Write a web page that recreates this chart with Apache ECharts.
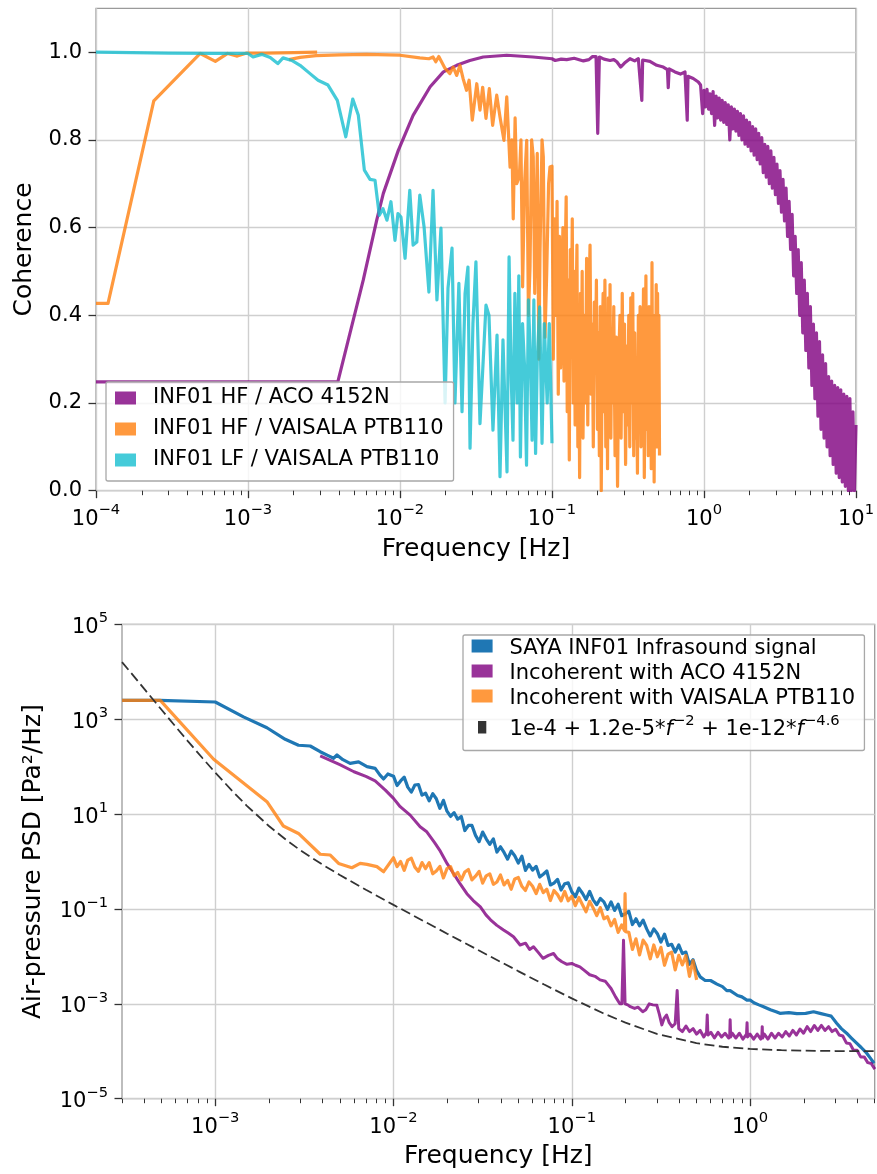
<!DOCTYPE html>
<html><head><meta charset="utf-8">
<script src="https://cdn.jsdelivr.net/npm/echarts@6/dist/echarts.min.js"></script>
<style>html,body{margin:0;padding:0;background:#fff}#c{width:877px;height:1174px}</style>
</head><body><div id="c"></div>
<script>
// ---------- Top panel: coherence ----------
const acoCohFreqLow = [1e-4,3.9e-3,5.73e-3,7.03e-3,7.77e-3,9.75e-3,0.0122,0.0158,0.0193,0.0236,0.0288,0.0353,0.0504,0.075,0.1,0.105,0.115,0.125,0.14,0.161,0.175,0.185,0.195,0.2,0.205,0.22,0.241,0.255,0.267,0.283,0.3,0.326,0.35,0.37,0.39,0.395,0.441,0.489,0.54,0.575,0.582,0.59,0.644,0.7,0.75,0.776,0.785,0.85,0.918,0.95,0.98];
const acoCohValLow = [0.248,0.248,0.48,0.617,0.678,0.776,0.856,0.921,0.955,0.970,0.981,0.989,0.993,0.989,0.985,0.981,0.984,0.983,0.986,0.98,0.983,0.99,0.99,0.815,0.989,0.984,0.981,0.983,0.978,0.966,0.975,0.985,0.98,0.985,0.89,0.982,0.979,0.970,0.966,0.96,0.919,0.962,0.955,0.95,0.955,0.845,0.945,0.94,0.932,0.925,0.86];
const acoCohFreqHigh = [1.0,1.023,1.047,1.072,1.096,1.122,1.148,1.175,1.202,1.230,1.259,1.288,1.318,1.349,1.380,1.413,1.445,1.479,1.514,1.549,1.585,1.622,1.660,1.698,1.738,1.778,1.820,1.862,1.905,1.950,1.995,2.042,2.089,2.138,2.188,2.239,2.291,2.344,2.399,2.455,2.512,2.570,2.630,2.692,2.754,2.818,2.884,2.951,3.020,3.090,3.162,3.236,3.311,3.388,3.467,3.548,3.631,3.715,3.802,3.890,3.981,4.074,4.169,4.266,4.365,4.467,4.571,4.677,4.786,4.898,5.012,5.129,5.248,5.370,5.495,5.623,5.754,5.888,6.026,6.166,6.310,6.457,6.607,6.761,6.918,7.079,7.244,7.413,7.586,7.762,7.943,8.128,8.318,8.511,8.710,8.913,9.120,9.333,9.550,9.772,10.0];
const acoCohValHigh = [0.913,0.875,0.915,0.87,0.905,0.86,0.91,0.833,0.90,0.85,0.895,0.845,0.89,0.84,0.885,0.835,0.88,0.80,0.875,0.825,0.87,0.82,0.865,0.81,0.86,0.80,0.855,0.79,0.845,0.785,0.84,0.775,0.83,0.765,0.825,0.755,0.815,0.745,0.805,0.725,0.79,0.715,0.785,0.70,0.775,0.69,0.76,0.675,0.745,0.655,0.73,0.635,0.71,0.615,0.69,0.58,0.66,0.55,0.63,0.49,0.58,0.45,0.55,0.40,0.52,0.36,0.48,0.32,0.45,0.28,0.42,0.24,0.38,0.21,0.36,0.17,0.34,0.14,0.31,0.12,0.29,0.10,0.26,0.08,0.25,0.06,0.24,0.04,0.235,0.03,0.23,0.02,0.22,0.01,0.215,0.0,0.21,0.0,0.18,0.0,0.15];

const hfVaisalaFreqA = [1e-4,1.2e-4,2.4e-4,4.85e-4,6.1e-4,7.35e-4,8.5e-4,9.8e-4,1.3e-3,2.0e-3,2.85e-3];
const hfVaisalaCohA = [0.427,0.427,0.889,0.997,0.979,0.997,0.991,0.998,0.998,0.999,1.0];

const hfVaisalaFreqB = [1.86e-3,2.2e-3,2.8e-3,4e-3,6e-3,0.01,0.0135,0.0155,0.0165,0.0172,0.018,0.0198,0.0213,0.0224,0.0236,0.0248,0.026,0.0274,0.0285,0.0299,0.032,0.0336,0.035,0.0368,0.0387,0.0407,0.0433,0.0455,0.0483,0.0504,0.053,0.0545,0.0556,0.0572,0.0586,0.061,0.0625,0.0641,0.066,0.0682,0.070,0.0717,0.0735,0.0753,0.077,0.080,0.082,0.0834,0.086,0.0877,0.090,0.0923,0.095,0.097];
const hfVaisalaCohB = [0.983,0.988,0.992,0.994,0.995,0.993,0.987,0.985,0.989,0.978,0.99,0.963,0.951,0.966,0.947,0.97,0.94,0.913,0.936,0.845,0.928,0.868,0.92,0.849,0.917,0.833,0.902,0.852,0.799,0.898,0.738,0.80,0.62,0.85,0.70,0.716,0.80,0.465,0.70,0.799,0.40,0.51,0.80,0.761,0.45,0.769,0.30,0.541,0.80,0.761,0.35,0.495,0.70,0.738];
const hfVaisalaFreqC = [0.100,0.102,0.104,0.106,0.108,0.110,0.112,0.114,0.116,0.118,0.120,0.122,0.124,0.126,0.128,0.130,0.132,0.134,0.136,0.138,0.140,0.142,0.144,0.146,0.148,0.150,0.152,0.154,0.156,0.158,0.160,
0.163,0.166,0.169,0.172,0.175,0.178,0.181,0.184,0.187,0.190,0.193,0.196,0.199,0.202,0.205,0.208,0.211,0.214,0.217,0.220,0.223,0.226,0.229,0.232,0.235,0.238,0.241,0.244,0.247,0.250,
0.255,0.260,0.265,0.270,0.275,0.280,0.285,0.290,0.295,0.300,0.305,0.310,0.315,0.320,0.325,0.330,0.335,0.340,0.345,0.350,0.355,0.360,0.365,0.370,0.375,0.380,0.385,0.390,0.395,0.400,0.405,0.410,0.415,0.420,0.425,0.430,0.435,0.440,0.445,0.450,0.455,0.460,0.465,0.470,0.475,0.480,0.485,0.490,0.495,0.500,0.505,0.510];
const hfVaisalaCohC = [0.74,0.30,0.62,0.40,0.66,0.22,0.58,0.28,0.45,0.60,0.25,0.52,0.67,0.18,0.48,0.07,0.55,0.35,0.62,0.20,0.50,0.15,0.42,0.56,0.10,0.38,0.03,0.45,0.25,0.50,0.12,
0.40,0.20,0.53,0.15,0.44,0.56,0.22,0.38,0.10,0.43,0.28,0.48,0.14,0.36,0.08,0.42,0.00,0.33,0.45,0.18,0.48,0.10,0.38,0.05,0.44,0.22,0.47,0.12,0.36,0.20,
0.42,0.08,0.35,0.01,0.30,0.40,0.12,0.45,0.18,0.38,0.06,0.33,0.15,0.40,0.10,0.44,0.20,0.45,0.08,0.36,0.12,0.30,0.04,0.40,0.18,0.42,0.10,0.35,0.22,0.46,0.03,0.30,0.49,0.14,0.38,0.08,0.42,0.20,0.36,0.05,0.52,0.15,0.40,0.02,0.35,0.22,0.47,0.10,0.45,0.18,0.40,0.08];

const lfVaisalaFreq = [1e-4,3e-4,6e-4,1e-3,1.08e-3,1.23e-3,1.4e-3,1.57e-3,1.7e-3,1.94e-3,2.2e-3,2.56e-3,2.89e-3,3.36e-3,3.87e-3,4.4e-3,4.89e-3,5.32e-3,5.83e-3,6.35e-3,6.85e-3,7.31e-3,
7.73e-3,8.21e-3,8.72e-3,9.27e-3,9.7e-3,0.01015,0.0108,0.0116,0.0122,0.0129,0.0135,0.0144,0.0155,0.0165,0.0175,0.0186,0.0198,0.0207,0.022,0.023,0.0244,0.0256,0.0268,0.028,0.0289,0.0302,0.0316,0.0336,0.0352,0.0368,0.0385,0.0409,0.0435,0.0455,0.0476,0.0506,0.0522,0.054,0.0554,0.057,0.059,0.0605,0.062,0.064,0.066,0.068,0.070,0.072,0.074,0.076,0.078,0.080,0.083,0.086,0.089,0.093,0.096,0.100];
const lfVaisalaCoh = [1.0,0.998,0.997,0.997,0.989,0.995,0.988,0.974,0.987,0.981,0.970,0.951,0.936,0.925,0.89,0.807,0.893,0.856,0.731,0.71,0.708,0.628,
0.643,0.617,0.659,0.571,0.632,0.624,0.530,0.685,0.560,0.567,0.674,0.602,0.453,0.685,0.435,0.599,0.20,0.462,0.553,0.20,0.473,0.18,0.45,0.51,0.097,0.381,0.522,0.153,0.29,0.423,0.40,0.138,0.355,0.032,0.344,0.043,0.533,0.25,0.115,0.45,0.20,0.49,0.077,0.381,0.283,0.058,0.435,0.305,0.115,0.435,0.085,0.298,0.419,0.108,0.381,0.20,0.381,0.108];

// ---------- Bottom panel: PSD ----------
const sayaFreqLow = [3.0e-4,4.9e-4,1.0e-3,1.44e-3,1.95e-3,2.47e-3,2.93e-3,3.41e-3,3.88e-3,4.3e-3,4.61e-3,4.82e-3,5.2e-3,5.71e-3,6.37e-3,7.1e-3,7.89e-3,8.4e-3,8.79e-3,9.3e-3];
const sayaPsdLow = [2500,2500,2300,1120,660,377,282,272,206,170,150,176,140,117,126,100,92,66,55,70];
const sayaFreqMid = [0.01,0.01047,0.01096,0.01148,0.01202,0.01259,0.01318,0.0138,0.01445,0.01514,0.01585,0.0166,0.01738,0.0182,0.01905,0.01995,0.02089,0.02188,0.02291,0.02399,0.02512,0.0263,0.02754,0.02884,0.0302,0.03162,0.03311,0.03467,0.03631,0.03802,0.03981,0.04169,0.04365,0.04571,0.04786,0.05012,0.05248,0.05495,0.05754,0.06026,0.0631,0.06607,0.06918,0.07244,0.07586,0.07943,0.08318,0.0871,0.0912,0.0955,0.1,0.1047,0.1096,0.1148,0.1202,0.1259,0.1318,0.138,0.1445,0.1514,0.1585,0.166,0.1738,0.182,0.1905,0.1995,0.2089,0.2188,0.2291,0.2399,0.2512,0.263,0.2754,0.2884,0.302,0.3162,0.3311,0.3467,0.3631,0.3802,0.3981,0.4169,0.4365,0.4571,0.4786,0.5012];
const sayaPsdMid = [63,40,50,60,37,29,41,42,25,27.5,19,27,21,13.2,19.5,11.5,8.9,10.7,7.8,8.9,4.5,5.75,5.75,3.55,2.63,4.17,3.0,2.29,3.0,1.58,2.04,1.55,1.12,1.66,1.32,0.93,1.29,0.65,0.87,0.66,0.79,0.47,0.54,0.63,0.32,0.35,0.42,0.25,0.34,0.355,0.23,0.18,0.275,0.214,0.158,0.234,0.155,0.123,0.166,0.141,0.098,0.141,0.093,0.126,0.072,0.078,0.089,0.047,0.062,0.044,0.058,0.038,0.027,0.038,0.030,0.020,0.0295,0.017,0.018,0.0123,0.0174,0.0115,0.0123,0.0068,0.0085,0.005];
const sayaFreqHigh = [0.525,0.56,0.6,0.652,0.7,0.74,0.773,0.85,0.9,0.96,1.0,1.05,1.12,1.19,1.3,1.4,1.47,1.65,1.83,2.05,2.27,2.5,2.69,2.85,3.06,3.25,3.48,3.7,3.96,4.2,4.51,4.75,4.96];
const sayaPsdHigh = [0.0037,0.0031,0.0031,0.0026,0.0023,0.0019,0.0019,0.0015,0.0014,0.0012,0.0012,0.00105,0.00095,0.00087,0.00075,0.00068,0.00063,0.00065,0.00062,0.00063,0.00068,0.00062,0.00058,0.00055,0.00039,0.0003,0.00024,0.00019,0.000148,0.00012,0.000091,0.00007,0.000056];

const acoIncFreqLow = [3.88e-3,5.0e-3,6.0e-3,7.0e-3,7.89e-3,9.0e-3,0.01,0.0109,0.0124,0.0141,0.0153,0.017,0.0183,0.02,0.0217,0.0235,0.0258,0.028,0.0307,0.033,0.035,0.038,0.0414,0.044,0.0471,0.0513,0.055,0.058,0.061,0.065,0.069,0.074,0.079,0.083,0.088,0.094,0.1,0.105,0.111,0.118,0.126,0.135,0.144,0.154,0.16,0.166,0.176,0.186,0.191,0.195,0.199,0.206,0.213,0.225,0.235,0.25,0.26,0.272,0.285,0.3,0.31,0.32,0.33,0.34,0.352,0.365,0.38,0.39,0.398];
const acoIncPsdLow = [168,110,78,62,50,32,21.4,14.3,9.5,5.4,4.3,2.5,1.65,0.9,0.56,0.35,0.21,0.15,0.11,0.075,0.059,0.045,0.036,0.031,0.026,0.0174,0.019,0.014,0.016,0.012,0.0091,0.0105,0.0115,0.009,0.0077,0.0068,0.0071,0.0065,0.006,0.005,0.0041,0.0038,0.0032,0.003,0.0025,0.0021,0.0014,0.001,0.001,0.022,0.001,0.00095,0.00087,0.0008,0.00085,0.00068,0.00075,0.001,0.00095,0.00093,0.0006,0.00036,0.0005,0.00058,0.0004,0.00033,0.00038,0.0019,0.0003];
const acoIncFreqHigh = [0.417,0.437,0.457,0.479,0.501,0.525,0.550,0.57,0.575,0.58,0.603,0.631,0.661,0.692,0.724,0.759,0.769,0.773,0.778,0.794,0.832,0.871,0.912,0.955,0.962,0.967,1.0,1.047,1.096,1.148,1.165,1.17,1.175,1.202,1.259,1.318,1.38,1.445,1.514,1.585,1.66,1.738,1.82,1.905,1.995,2.089,2.188,2.291,2.399,2.512,2.63,2.754,2.884,3.02,3.162,3.311,3.467,3.631,3.802,3.981,4.169,4.365,4.571,4.786,5.012];
const acoIncPsdHigh = [2.6e-4,3.4e-4,2.6e-4,3.0e-4,2.3e-4,2.75e-4,2.0e-4,2.5e-4,5.8e-4,2.2e-4,2.5e-4,1.9e-4,2.5e-4,2.0e-4,2.4e-4,1.9e-4,2.2e-4,4.6e-4,2.0e-4,2.4e-4,1.9e-4,2.4e-4,1.8e-4,2.3e-4,4.0e-4,2.0e-4,2.3e-4,1.8e-4,2.3e-4,1.8e-4,2.2e-4,3.3e-4,1.9e-4,2.3e-4,1.8e-4,2.4e-4,1.9e-4,2.4e-4,2.0e-4,2.6e-4,2.1e-4,2.75e-4,2.2e-4,2.95e-4,2.4e-4,3.3e-4,2.6e-4,3.5e-4,2.75e-4,3.5e-4,2.75e-4,3.3e-4,2.6e-4,2.9e-4,2.2e-4,2.1e-4,1.5e-4,1.45e-4,1.05e-4,1.05e-4,7.6e-5,7.6e-5,5.75e-5,5.5e-5,4.2e-5];

const vaisalaIncFreq = [3.0e-4,4.92e-4,9.8e-4,1.95e-3,2.41e-3,2.93e-3,3.88e-3,4.42e-3,4.92e-3,5.84e-3,6.5e-3,7.1e-3,8.07e-3,8.8e-3,
0.01,0.01047,0.01096,0.01148,0.01202,0.01259,0.01318,0.0138,0.01445,0.01514,0.01585,0.0166,0.01738,0.0182,0.01905,0.01995,0.02089,0.02188,0.02291,0.02399,0.02512,0.0263,0.02754,0.02884,0.0302,0.03162,0.03311,0.03467,0.03631,0.03802,0.03981,0.04169,0.04365,0.04571,0.04786,0.05012,0.05248,0.05495,0.05754,0.06026,0.0631,0.06607,0.06918,0.07244,0.07586,0.07943,0.08318,0.0871,0.0912,0.0955,0.1,0.1047,0.1096,0.1148,0.1202,0.1259,0.1318,0.138,0.1445,0.1514,0.1585,0.166,0.1738,0.182,0.1905,
0.1975,0.199,0.2005,
0.2089,0.2188,0.2291,0.2399,0.2512,0.263,0.2754,0.2884,0.302,0.3162,0.3311,0.3467,0.3631,0.3802,0.3981,0.4169,0.4365,0.4571,0.4786,0.5012];
const vaisalaIncPsd = [2500,2500,143,18.2,5.6,3.9,1.42,1.37,0.91,0.74,0.91,0.87,0.78,0.61,
1.2,0.78,1.0,0.65,1.07,1.17,0.76,0.62,0.95,0.71,0.95,0.55,0.63,0.79,0.45,0.71,0.78,0.50,0.59,0.41,0.60,0.68,0.41,0.49,0.62,0.35,0.50,0.55,0.33,0.37,0.52,0.32,0.40,0.26,0.43,0.46,0.30,0.245,0.37,0.30,0.21,0.33,0.22,0.26,0.15,0.245,0.20,0.148,0.234,0.148,0.186,0.117,0.174,0.123,0.087,0.145,0.105,0.072,0.107,0.062,0.069,0.044,0.060,0.032,0.046,
0.035,0.21,0.033,
0.032,0.014,0.0234,0.0107,0.022,0.017,0.0089,0.0174,0.0098,0.0155,0.0065,0.0112,0.0123,0.0052,0.0105,0.0066,0.0105,0.0038,0.0081,0.0032];

const modelFreq = [3e-4,3.5e-4,4e-4,5e-4,6e-4,7e-4,8.5e-4,1e-3,1.25e-3,1.5e-3,2e-3,2.5e-3,3e-3,4e-3,5e-3,7e-3,0.01,0.015,0.02,0.03,0.05,0.07,0.1,0.15,0.2,0.3,0.5,0.7,1,1.5,2,3,5];
const modelPsd = [16000,8000,4345,1579,693,350,150,75,30.3,15.1,5.6,2.85,1.73,0.857,0.519,0.253,0.1217,0.0537,0.0301,0.01344,0.0049,0.00255,0.0013,0.000633,0.0004,0.000233,0.000148,0.0001245,0.000112,0.0001053,0.000103,0.0001013,0.0001005];

// tick values
const topXMajor = [1e-4,1e-3,1e-2,1e-1,1,10];
const topYTicks = [0,0.2,0.4,0.6,0.8,1.0];
const botXMajor = [1e-3,1e-2,1e-1,1];
const botYTicks = [1e-5,1e-3,1e-1,1e1,1e3,1e5];

// names
const topNames = ['INF01 HF / ACO 4152N','INF01 HF / VAISALA PTB110','INF01 LF / VAISALA PTB110'];
const botNames = ['SAYA INF01 Infrasound signal','Incoherent with ACO 4152N','Incoherent with VAISALA PTB110','1e-4 + 1.2e-5*f^-2 + 1e-12*f^-4.6'];

const zip = (a, b) => a.map((x, i) => [x, b[i]]);
function minorTicks(lo, hi) {
  const out = [];
  for (let d = -6; d <= 2; d++) for (let k = 2; k <= 9; k++) {
    const v = k * Math.pow(10, d);
    if (v >= lo * 0.9999 && v <= hi * 1.0001) out.push(v);
  }
  return out;
}
const inset = arr => arr.map((v, i) => i === 0 ? v * 1.000001 : (i === arr.length - 1 ? v * 0.999999 : v));

const FONT = 'DejaVu Sans';
const PURPLE = 'rgba(128,0,128,0.8)';
const ORANGE = 'rgba(255,127,14,0.8)';
const CYAN = 'rgba(23,190,207,0.8)';
const BLUE = '#1f77b4';
const DARK = '#333333';
const GRIDC = '#cfcfcf';
const FRAME = '#9a9a9a';
const TICKC = '#333';

const powRich = {
  b: {fontSize: 21, lineHeight: 27, verticalAlign: 'bottom', color: '#000', fontFamily: FONT},
  s: {fontSize: 14.7, lineHeight: 15, verticalAlign: 'top', color: '#000', fontFamily: FONT}
};
function powLabel(v) {
  const e = Math.round(Math.log10(v));
  const s = e < 0 ? '\u2212' + (-e) : String(e);
  return '{b|10}{s|' + s + '}';
}

function majorX(grid, min, max, ticks, gap) {
  return {
    gridIndex: grid, type: 'log', logBase: 10, min: min, max: max,
    axisLine: {show: false},
    axisTick: {show: true, customValues: ticks, length: 7.5, lineStyle: {color: TICKC, width: 1.3}},
    axisLabel: {show: true, customValues: ticks, margin: 12, formatter: powLabel, rich: powRich},
    splitLine: {show: true, lineStyle: {color: GRIDC, width: 1.4}},
    name: 'Frequency [Hz]', nameLocation: 'middle', nameGap: gap,
    nameTextStyle: {fontSize: 25, color: '#000', fontFamily: FONT}
  };
}
function minorX(grid, min, max) {
  return {
    gridIndex: grid, type: 'log', logBase: 10, min: min, max: max, position: 'bottom',
    axisLine: {show: false}, axisLabel: {show: false}, splitLine: {show: false},
    axisTick: {show: true, customValues: minorTicks(min, max), length: 4.5, lineStyle: {color: TICKC, width: 1}}
  };
}

const iconRect = 'path://M0,0h21v13h-21z M33,6.5L33,6.5';
const iconDash = 'path://M6.4,0.5h8.3v12.5h-8.3z M0,0L0,0 M33,13L33,13';

function lineSeries(name, xi, yi, data, color, width, extra) {
  return Object.assign({
    type: 'line', name: name, xAxisIndex: xi, yAxisIndex: yi, data: data,
    symbol: 'none', showSymbol: false, color: color, silent: true,
    lineStyle: {width: width, color: color, join: 'round'}, emphasis: {disabled: true}, animation: false
  }, extra || {});
}

const option = {
  animation: false,
  textStyle: {fontFamily: FONT},
  grid: [
    {left: 96, top: 8.3, width: 760, height: 482.4, show: true, borderColor: FRAME, borderWidth: 1.3, backgroundColor: 'transparent'},
    {left: 122, top: 624.3, width: 752.7, height: 474.4, show: true, borderColor: FRAME, borderWidth: 1.3, backgroundColor: 'transparent'}
  ],
  xAxis: [
    majorX(0, 1e-4, 10, inset(topXMajor), 46),
    minorX(0, 1e-4, 10),
    majorX(1, 3e-4, 5, botXMajor, 45),
    minorX(1, 3e-4, 5)
  ],
  yAxis: [
    {
      gridIndex: 0, type: 'value', min: 0, max: 1.1,
      axisLine: {show: false},
      axisTick: {show: true, customValues: topYTicks, length: 7.5, lineStyle: {color: TICKC, width: 1.3}},
      axisLabel: {show: true, customValues: topYTicks, margin: 14, fontSize: 21, color: '#000', fontFamily: FONT,
        formatter: v => Number(v).toFixed(1)},
      splitLine: {show: true, lineStyle: {color: GRIDC, width: 1.4}},
      name: 'Coherence', nameLocation: 'middle', nameGap: 59,
      nameTextStyle: {fontSize: 25, color: '#000', fontFamily: FONT}
    },
    {
      gridIndex: 1, type: 'log', logBase: 10, min: 1e-5, max: 1e5,
      axisLine: {show: false},
      axisTick: {show: true, customValues: inset(botYTicks), length: 7.5, lineStyle: {color: TICKC, width: 1.3}},
      axisLabel: {show: true, customValues: inset(botYTicks), margin: 14, formatter: powLabel, rich: powRich},
      splitLine: {show: true, lineStyle: {color: GRIDC, width: 1.4}},
      name: 'Air-pressure PSD [Pa\u00b2/Hz]', nameLocation: 'middle', nameGap: 76,
      nameTextStyle: {fontSize: 25, color: '#000', fontFamily: FONT}
    }
  ],
  legend: [
    {
      data: topNames.map(n => ({name: n, icon: iconRect})),
      orient: 'vertical', left: 106, top: 382, selectedMode: false,
      itemWidth: 33, itemHeight: 13, itemGap: 10, symbolKeepAspect: true,
      itemStyle: {borderWidth: 0},
      padding: [5.5, 10, 10.5, 9],
      backgroundColor: 'rgba(255,255,255,0.8)', borderColor: '#a8a8a8', borderWidth: 1.3, borderRadius: 2,
      textStyle: {fontSize: 21, lineHeight: 21, color: '#000', fontFamily: FONT}
    },
    {
      data: botNames.map((n, i) => ({name: n, icon: i === 3 ? iconDash : iconRect})),
      orient: 'vertical', left: 463, top: 635, selectedMode: false,
      itemWidth: 33, itemHeight: 13, itemGap: 4, symbolKeepAspect: true,
      itemStyle: {borderWidth: 0},
      padding: [3.5, 9.3, 10, 8.6],
      backgroundColor: 'rgba(255,255,255,0.8)', borderColor: '#a8a8a8', borderWidth: 1.3, borderRadius: 2,
      formatter: function (name) {
        if (name === botNames[3]) return '{n|1e-4 + 1.2e-5*}{i|f}{s|\u22122}{n| + 1e-12*}{i|f}{s|\u22124.6}';
        return '{n|' + name + '}';
      },
      textStyle: {
        fontSize: 21, color: '#000', fontFamily: FONT,
        rich: {
          n: {fontSize: 21, lineHeight: 27, verticalAlign: 'bottom', color: '#000', fontFamily: FONT},
          i: {fontSize: 21, lineHeight: 27, verticalAlign: 'bottom', fontStyle: 'italic', color: '#000', fontFamily: FONT},
          s: {fontSize: 14.7, lineHeight: 15, verticalAlign: 'top', color: '#000', fontFamily: FONT}
        }
      }
    }
  ],
  series: [
    lineSeries(topNames[0], 0, 0, zip(acoCohFreqLow.concat(acoCohFreqHigh), acoCohValLow.concat(acoCohValHigh)), PURPLE, 3.2),
    lineSeries(topNames[1], 0, 0, zip(hfVaisalaFreqA, hfVaisalaCohA), ORANGE, 3.2),
    lineSeries(topNames[1], 0, 0, zip(hfVaisalaFreqB.concat(hfVaisalaFreqC), hfVaisalaCohB.concat(hfVaisalaCohC)), ORANGE, 3.2),
    lineSeries(topNames[2], 0, 0, zip(lfVaisalaFreq, lfVaisalaCoh), CYAN, 3.2),
    lineSeries(botNames[0], 2, 1, zip(sayaFreqLow.concat(sayaFreqMid, sayaFreqHigh), sayaPsdLow.concat(sayaPsdMid, sayaPsdHigh)), BLUE, 3.2),
    lineSeries(botNames[1], 2, 1, zip(acoIncFreqLow.concat(acoIncFreqHigh), acoIncPsdLow.concat(acoIncPsdHigh)), PURPLE, 3.0),
    lineSeries(botNames[2], 2, 1, zip(vaisalaIncFreq, vaisalaIncPsd), ORANGE, 3.2),
    lineSeries(botNames[3], 2, 1, zip(modelFreq, modelPsd), DARK, 1.8, {lineStyle: {width: 1.8, color: DARK, type: [10, 4.5]}, z: 5})
  ]
};

const chart = echarts.init(document.getElementById('c'), null, {renderer: 'canvas'});
chart.setOption(option);
</script>
</body></html>
